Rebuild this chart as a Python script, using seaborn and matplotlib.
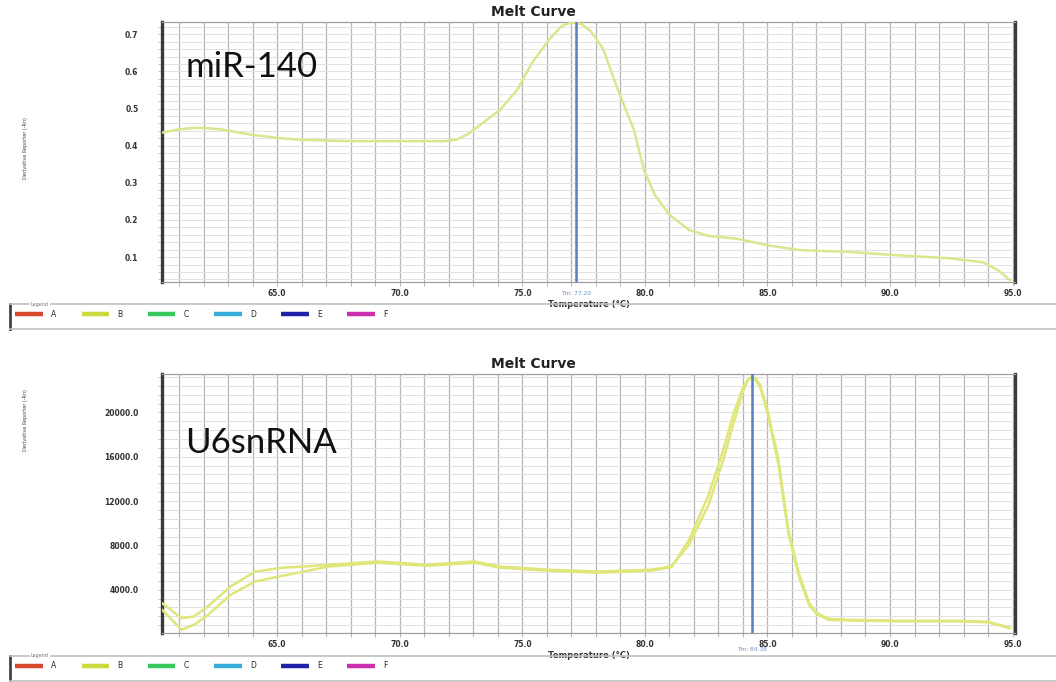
import matplotlib
matplotlib.use("Agg")
import numpy as np
import pandas as pd
import seaborn as sns
import matplotlib.pyplot as plt
from matplotlib.lines import Line2D
from matplotlib.ticker import MultipleLocator, FixedLocator
import matplotlib.transforms as mtransforms

# ---------------- data ----------------
mir_temp = [60.3, 61.0, 61.6, 62.2, 62.8, 63.9, 65.0, 65.9, 68.0, 70.0, 71.8, 72.3,
            72.8, 73.4, 74.1, 74.8, 75.4, 76.1, 76.6, 77.0, 77.4, 77.8, 78.3, 78.9,
            79.55, 79.96, 80.4, 81.0, 81.8, 82.6, 83.8, 85.0, 86.3, 88.3, 90.3, 92.4,
            93.8, 94.4, 94.9]
mir_deriv = [0.435, 0.444, 0.448, 0.447, 0.443, 0.430, 0.421, 0.416, 0.412, 0.412,
             0.412, 0.416, 0.432, 0.462, 0.497, 0.551, 0.624, 0.686, 0.722, 0.732,
             0.728, 0.708, 0.660, 0.550, 0.443, 0.335, 0.268, 0.214, 0.173, 0.157,
             0.149, 0.132, 0.119, 0.114, 0.105, 0.097, 0.086, 0.065, 0.038]

u6_temp = [60.3, 61.1, 61.6, 62.1, 63.1, 64.1, 65.2, 66.1, 67.1, 69.1, 71.1, 73.05,
           74.1, 76.1, 78.1, 80.2, 80.7, 81.1, 81.8, 82.6, 83.2, 83.6, 84.0, 84.2,
           84.35, 84.5, 84.7, 85.0, 85.45, 85.85, 86.3, 86.7, 87.0, 87.5, 88.3, 90.3,
           92.8, 94.0, 94.9]
u6_deriv_a = [2790, 1430, 1580, 2360, 4290, 5640, 5980, 6090, 6250, 6550, 6250, 6550,
              6090, 5800, 5640, 5800, 5950, 6160, 8050, 11660, 15730, 18890, 21870,
              22900, 23220, 23100, 22500, 20240, 15730, 9410, 5340, 2820, 1910, 1370,
              1280, 1190, 1190, 1100, 560]
u6_deriv_b = [2190, 380, 830, 1580, 3540, 4740, 5250, 5640, 6090, 6430, 6160, 6430,
              5980, 5710, 5530, 5710, 5880, 6070, 8500, 12570, 16630, 19790, 22230,
              22950, 23130, 22980, 22300, 19970, 15280, 9140, 5070, 2640, 1820, 1280,
              1230, 1150, 1150, 1060, 520]

mir_tm = 77.2
u6_tm = 84.38
mir_tm_label = "Tm: 77.20"
u6_tm_label = "Tm: 84.38"

x_ticks = [65, 70, 75, 80, 85, 90, 95]
mir_yticks = [0.1, 0.2, 0.3, 0.4, 0.5, 0.6, 0.7]
u6_yticks = [4000, 8000, 12000, 16000, 20000]

legend_labels = ["A", "B", "C", "D", "E", "F"]
legend_colors = ["#d8482c", "#c8da3c", "#36c95c", "#36acd8", "#2020a8", "#cc30ae"]

panel_names = ["miR-140", "U6snRNA"]

# ---------------- style ----------------
sns.set_theme(style="white")
plt.rcParams["font.family"] = ["DejaVu Sans"]

W, H = 1056, 682
fig = plt.figure(figsize=(W / 100, H / 100), dpi=100)
fig.patch.set_facecolor("white")


def fx(px):
    return px / W


def fy(py):
    return 1 - py / H


curve_col = "#dbe68e"
tm_col = "#5580bb"


def style_axes(ax, ylim, yticks, yminor, fmt):
    ax.set_xlim(60.3, 95.1)
    ax.set_ylim(*ylim)
    ax.xaxis.set_major_locator(FixedLocator(x_ticks))
    ax.xaxis.set_minor_locator(FixedLocator(list(range(61, 96))))
    ax.set_xticklabels([f"{t:.1f}" for t in x_ticks])
    ax.yaxis.set_major_locator(FixedLocator(yticks))
    ax.yaxis.set_minor_locator(MultipleLocator(yminor))
    ax.set_yticklabels([fmt(v) for v in yticks])
    ax.grid(which="both", axis="x", color="#b4b4b4", lw=0.9, zorder=0)
    ax.grid(which="both", axis="y", color="#e2e2e2", lw=0.7, zorder=0)
    ax.tick_params(axis="x", which="both", direction="out", length=3, width=0.6,
                   color="#aaaaaa", labelsize=5.5, labelcolor="#333333", pad=2)
    ax.tick_params(axis="y", which="both", direction="out", length=3, width=0.6,
                   color="#bbbbbb", labelsize=5.5, labelcolor="#333333", pad=14)
    ax.tick_params(bottom=True, left=True, which="both")
    for lab in ax.get_xticklabels() + ax.get_yticklabels():
        lab.set_fontweight("bold")
    for s in ["left", "right"]:
        ax.spines[s].set_color("#3a3a3a")
        ax.spines[s].set_linewidth(2.4)
    for s in ["top", "bottom"]:
        ax.spines[s].set_color("#a0a0a0")
        ax.spines[s].set_linewidth(0.9)
    ax.set_facecolor("white")


def finish_labels(ax, tm, tm_label, tm_y):
    ax.set_xlabel("Temperature (°C)", fontsize=6, color="#333333", labelpad=1.5,
                  fontweight="bold")
    ax.set_ylabel("")
    ax.axvline(tm, color=tm_col, lw=1.8, zorder=4)
    tr = mtransforms.blended_transform_factory(ax.transData, ax.transAxes)
    ax.text(tm, tm_y, tm_label, transform=tr, fontsize=4.2, color="#6a8fc8",
            ha="center", va="center")


def add_legend(top_px):
    lax = fig.add_axes([fx(10), fy(top_px + 25), fx(1046), 25 / H])
    lax.set_xticks([])
    lax.set_yticks([])
    lax.patch.set_alpha(0)
    lax.spines["right"].set_visible(False)
    lax.spines["left"].set_color("#444444")
    lax.spines["left"].set_linewidth(2)
    for s in ["top", "bottom"]:
        lax.spines[s].set_color("#c0c0c0")
        lax.spines[s].set_linewidth(1.2)
    handles = [Line2D([0], [0], color=c, lw=3.2, solid_capstyle="butt")
               for c in legend_colors]
    lax.legend(handles, legend_labels, loc="center left", ncol=6, frameon=False,
               fontsize=5.5, handlelength=3.6, handletextpad=1.1,
               columnspacing=3.3, bbox_to_anchor=(0.0, 0.6), borderaxespad=0.3)
    lax.text(0.02, 1.0, "Legend", transform=lax.transAxes, fontsize=3.5,
             color="#777777", va="center", ha="left",
             bbox=dict(facecolor="white", edgecolor="none", pad=0.5))


# ---------------- top panel ----------------
ax1 = fig.add_axes([fx(162), fy(282), fx(1015) - fx(162), (282 - 22) / H])
style_axes(ax1, (0.033, 0.733), mir_yticks, 0.02, lambda v: f"{v:.1f}")
df1 = pd.DataFrame({"temp": mir_temp, "deriv": mir_deriv})
sns.lineplot(data=df1, x="temp", y="deriv", ax=ax1, color=curve_col, lw=1.8,
             estimator=None, sort=False, zorder=3, solid_joinstyle="round")
finish_labels(ax1, mir_tm, mir_tm_label, -0.045)

# ---------------- bottom panel ----------------
ax2 = fig.add_axes([fx(162), fy(633), fx(1015) - fx(162), (633 - 374) / H])
style_axes(ax2, (90, 23470), u6_yticks, 800, lambda v: f"{v:.1f}")
df2 = pd.DataFrame({"temp": u6_temp + u6_temp,
                    "deriv": u6_deriv_a + u6_deriv_b,
                    "well": ["a"] * len(u6_temp) + ["b"] * len(u6_temp)})
sns.lineplot(data=df2, x="temp", y="deriv", units="well", ax=ax2, color="#dfe67a",
             lw=1.8, estimator=None, sort=False, zorder=3, solid_joinstyle="round")
finish_labels(ax2, u6_tm, u6_tm_label, -0.064)

# panel names
fig.text(fx(185), fy(77), panel_names[0], fontsize=25, family="Lato",
         color="#111111", ha="left", va="baseline")
fig.text(fx(185), fy(453), panel_names[1], fontsize=25, family="Lato",
         color="#111111", ha="left", va="baseline")

# titles
for ytop in (12, 364):
    fig.text(0.505, fy(ytop), "Melt Curve", fontsize=10, fontweight="heavy",
             color="#222222", ha="center", va="center")

# y axis labels (tiny rotated)
fig.text(fx(25), fy(148), "Derivative Reporter (-Rn)", rotation=90, fontsize=3.5,
         color="#444444", ha="center", va="center")
fig.text(fx(25), fy(420), "Derivative Reporter (-Rn)", rotation=90, fontsize=3.5,
         color="#444444", ha="center", va="center")

# legends
add_legend(304)
add_legend(656)

fig.savefig("out.png", dpi=100, facecolor="white")
